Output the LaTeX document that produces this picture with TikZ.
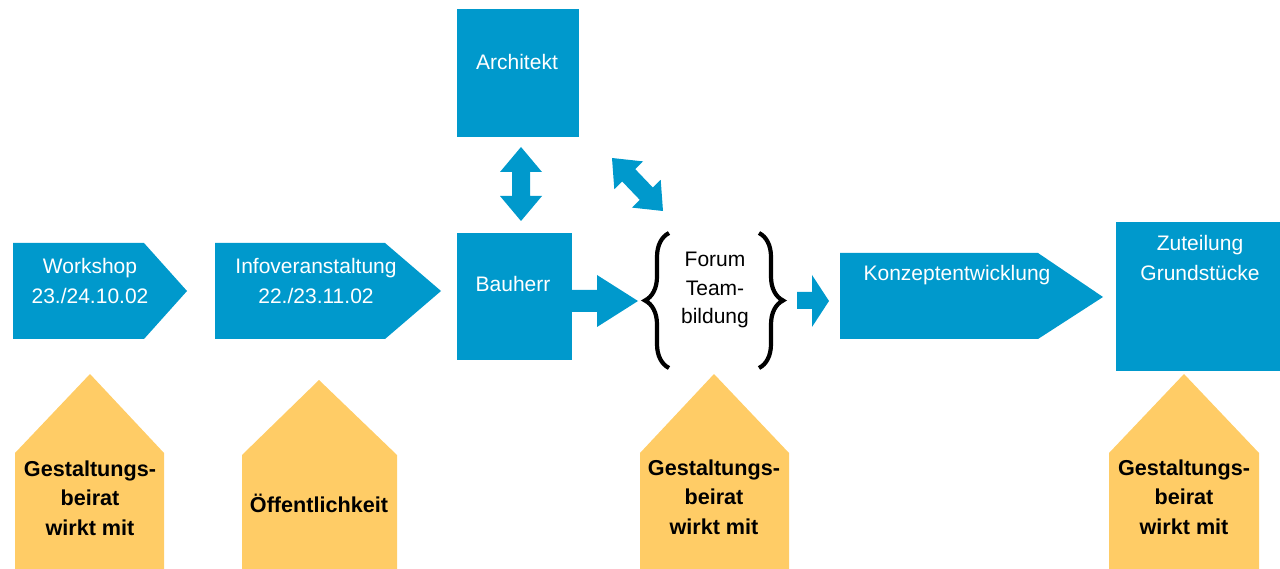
\documentclass[tikz,border=0pt]{standalone}
\usepackage{fontspec}
\setmainfont{Liberation Sans}
\usetikzlibrary{decorations.pathreplacing}
\definecolor{bl}{RGB}{0,153,204}
\definecolor{yl}{RGB}{255,204,102}
\tikzset{
  bluefill/.style={fill=bl, draw=none},
  yelfill/.style={fill=yl, draw=none},
  bluebox/.style={fill=bl, draw=none, inner sep=0pt, outer sep=0pt, anchor=north west},
  wtxt/.style={text=white, align=center, inner sep=0pt, font=\fontsize{21}{29.5}\selectfont},
  btxt/.style={text=black, align=center, inner sep=0pt, font=\fontsize{21}{28.5}\selectfont},
  ktxt/.style={text=black, align=center, inner sep=0pt, font=\fontsize{21.6}{29.5}\selectfont\bfseries},
  bracestyle/.style={draw=black, line width=4.2pt, decorate, decoration={brace, amplitude=24pt}}
}
\begin{document}
\begin{tikzpicture}[x=1pt,y=-1pt]
\useasboundingbox (0,0) rectangle (1280,569);

% pentagon shapes
\path[bluefill] (13,243) -- (144,243) -- (187,291) -- (144,339) -- (13,339) -- cycle;
\node[wtxt] (workshop) at (90,281) {Workshop\\23./24.10.02};

\path[bluefill] (215,243) -- (385,243) -- (441,291) -- (385,339) -- (215,339) -- cycle;
\node[wtxt] (info) at (316,281) {Infoveranstaltung\\22./23.11.02};

\path[bluefill] (840,253) -- (1038,253) -- (1103,297) -- (1038,339) -- (840,339) -- cycle;
\node[wtxt] (konzept) at (957,275) {Konzeptentwicklung};

% boxes
\node[bluebox, minimum width=122, minimum height=128] (arch) at (457,9) {};
\node[wtxt] (archT) at (517,62) {Architekt};

\node[bluebox, minimum width=115, minimum height=127] (bau) at (457,233) {};
\node[wtxt] (bauT) at (513,284) {Bauherr};

\node[bluebox, minimum width=164, minimum height=149] (zut) at (1116,222) {};
\node[wtxt] (zutT) at (1200,258) {Zuteilung\\Grundstücke};

% vertical double arrow
\path[bluefill] (521,147) -- (542,172) -- (530,172) -- (530,196) -- (542,196) -- (521,221)
  -- (500,196) -- (512,196) -- (512,172) -- (500,172) -- cycle;

% diagonal double arrow
\path[bluefill] (612,158) -- (643.1,161.4) -- (635.2,169.1) -- (652.8,187.5) -- (660.7,179.8)
  -- (663,211) -- (631.9,207.6) -- (639.8,199.9) -- (622.2,181.5) -- (614.3,189.2) -- cycle;

% Bauherr arrow
\path[bluefill] (572,290) -- (597,290) -- (597,275) -- (638,301) -- (597,327) -- (597,312) -- (572,312) -- cycle;

% arrow after brace
\path[bluefill] (797,292) -- (812,292) -- (812,275) -- (829,301) -- (812,327) -- (812,309) -- (797,309) -- cycle;

% braces
\coordinate (lbB) at (669,368);
\coordinate (lbT) at (669,233);
\coordinate (rbT) at (759,233);
\coordinate (rbB) at (759,368);
\draw[bracestyle] (lbB) -- (lbT);
\draw[bracestyle] (rbT) -- (rbB);
\node[btxt] (forum) at (715,290) {Forum\\Team-\\bildung};

% houses
\path[yelfill] (15,569) -- (15,453) -- (90,374) -- (164,453) -- (164,569) -- cycle;
\node[ktxt] (h1) at (90,498) {Gestaltungs-\\beirat\\wirkt mit};

\path[yelfill] (242,569) -- (242,455) -- (319,380) -- (397,455) -- (397,569) -- cycle;
\node[ktxt] (h2) at (319,503) {Öffentlichkeit};

\path[yelfill] (640,569) -- (640,453) -- (714,374) -- (789,453) -- (789,569) -- cycle;
\node[ktxt] (h3) at (714,497) {Gestaltungs-\\beirat\\wirkt mit};

\path[yelfill] (1109,569) -- (1109,453) -- (1184,374) -- (1259,453) -- (1259,569) -- cycle;
\node[ktxt] (h4) at (1184,497) {Gestaltungs-\\beirat\\wirkt mit};
\end{tikzpicture}
\end{document}
